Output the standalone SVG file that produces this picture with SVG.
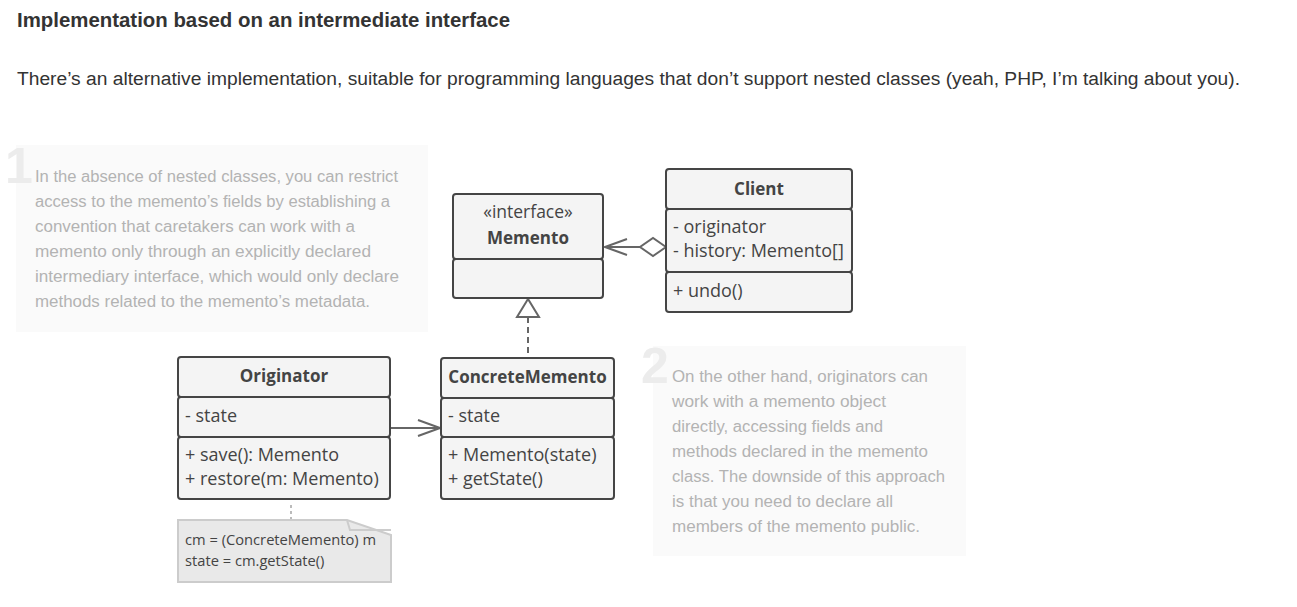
<svg xmlns="http://www.w3.org/2000/svg" width="1297" height="607" viewBox="0 0 1297 607">
<style>
  .bg { fill: #ffffff; }
  .h1 { font-family: "Liberation Sans", Arial, sans-serif; font-weight: bold; font-size: 20px; fill: #333333; }
  .body { font-family: "Liberation Sans", Arial, sans-serif; font-size: 18px; fill: #333333; }
  .panel { fill: #fafafa; }
  .digit { font-family: "Liberation Sans", Arial, sans-serif; font-weight: bold; font-size: 50px; fill: #ececec; }
  .ptxt { font-family: "Liberation Sans", Arial, sans-serif; font-size: 16px; fill: #b3b3b3; }
  .box { fill: #f4f4f4; stroke: #454545; stroke-width: 2; }
  .cls { font-family: "Open Sans", "Noto Sans", sans-serif; font-size: 18px; fill: #444444; }
  .ttl { font-family: "Open Sans", "Noto Sans", sans-serif; font-size: 17px; font-weight: bold; fill: #444444; text-anchor: middle; }
  .st { font-family: "Open Sans", "Noto Sans", sans-serif; font-size: 17.5px; fill: #444444; text-anchor: middle; }
  .conn { stroke: #666666; stroke-width: 2; fill: none; }
  .head { stroke: #666666; stroke-width: 2; fill: #ffffff; }
  .note { fill: #e9e9e9; stroke: #cccccc; stroke-width: 2; }
  .ntxt { font-family: "Open Sans", "Noto Sans", sans-serif; font-size: 14.7px; fill: #444444; }
</style>
<defs>
  <marker id="openArrow" viewBox="0 0 24 18" refX="23" refY="9" markerWidth="24" markerHeight="18" markerUnits="userSpaceOnUse" orient="auto">
    <path d="M1,1 L23,9 L1,17" fill="none" stroke="#666666" stroke-width="2"/>
  </marker>
</defs>
<rect class="bg" x="0" y="0" width="1297" height="607"/>

<g id="heading">
  <text class="h1" x="17" y="27" textLength="493" lengthAdjust="spacingAndGlyphs">Implementation based on an intermediate interface</text>
  <text class="body" x="17" y="85" textLength="1223" lengthAdjust="spacingAndGlyphs">There’s an alternative implementation, suitable for programming languages that don’t support nested classes (yeah, PHP, I’m talking about you).</text>
</g>

<g id="panel1">
  <rect class="panel" x="16" y="145" width="412" height="187"/>
  <text class="digit" x="5" y="183">1</text>
  <text class="ptxt" x="35" y="182" textLength="363" lengthAdjust="spacingAndGlyphs">In the absence of nested classes, you can restrict</text>
  <text class="ptxt" x="35" y="207" textLength="355" lengthAdjust="spacingAndGlyphs">access to the memento’s fields by establishing a</text>
  <text class="ptxt" x="35" y="232" textLength="320" lengthAdjust="spacingAndGlyphs">convention that caretakers can work with a</text>
  <text class="ptxt" x="35" y="257" textLength="336" lengthAdjust="spacingAndGlyphs">memento only through an explicitly declared</text>
  <text class="ptxt" x="35" y="282" textLength="364" lengthAdjust="spacingAndGlyphs">intermediary interface, which would only declare</text>
  <text class="ptxt" x="35" y="307" textLength="335" lengthAdjust="spacingAndGlyphs">methods related to the memento’s metadata.</text>
</g>

<g id="panel2">
  <rect class="panel" x="653" y="346" width="313" height="210"/>
  <text class="digit" x="641" y="383">2</text>
  <text class="ptxt" x="672" y="382" textLength="256" lengthAdjust="spacingAndGlyphs">On the other hand, originators can</text>
  <text class="ptxt" x="672" y="407" textLength="214" lengthAdjust="spacingAndGlyphs">work with a memento object</text>
  <text class="ptxt" x="672" y="432" textLength="211" lengthAdjust="spacingAndGlyphs">directly, accessing fields and</text>
  <text class="ptxt" x="672" y="457" textLength="256" lengthAdjust="spacingAndGlyphs">methods declared in the memento</text>
  <text class="ptxt" x="672" y="482" textLength="273" lengthAdjust="spacingAndGlyphs">class. The downside of this approach</text>
  <text class="ptxt" x="672" y="507" textLength="221" lengthAdjust="spacingAndGlyphs">is that you need to declare all</text>
  <text class="ptxt" x="672" y="532" textLength="248" lengthAdjust="spacingAndGlyphs">members of the memento public.</text>
</g>

<g id="connectors">
  <line class="conn" x1="640" y1="247" x2="605" y2="247" marker-end="url(#openArrow)"/>
  <polygon class="head" points="666,247 653,238 640,247 653,256"/>
  <line class="conn" x1="528" y1="317" x2="528" y2="358" stroke-dasharray="6 4"/>
  <polygon class="head" points="528,299 517,317 539,317"/>
  <line class="conn" x1="391" y1="428" x2="440" y2="428" marker-end="url(#openArrow)"/>
  <line x1="291" y1="505" x2="291" y2="519" stroke="#bbbbbb" stroke-width="2" stroke-dasharray="3 3"/>
</g>

<g id="memento">
  <rect class="box" x="453" y="194" width="150" height="65" rx="3"/>
  <rect class="box" x="453" y="259" width="150" height="39" rx="3"/>
  <text class="st" x="528" y="218">«interface»</text>
  <text class="ttl" x="528" y="244">Memento</text>
</g>

<g id="client">
  <rect class="box" x="666" y="169" width="186" height="40" rx="3"/>
  <rect class="box" x="666" y="209" width="186" height="63" rx="3"/>
  <rect class="box" x="666" y="272" width="186" height="40" rx="3"/>
  <text class="ttl" x="759" y="195">Client</text>
  <text class="cls" x="673" y="233">- originator</text>
  <text class="cls" x="673" y="257">- history: Memento[]</text>
  <text class="cls" x="673" y="297">+ undo()</text>
</g>

<g id="originator">
  <rect class="box" x="178" y="357" width="212" height="40" rx="3"/>
  <rect class="box" x="178" y="397" width="212" height="40" rx="3"/>
  <rect class="box" x="178" y="437" width="212" height="62" rx="3"/>
  <text class="ttl" x="284" y="382">Originator</text>
  <text class="cls" x="185" y="422">- state</text>
  <text class="cls" x="185" y="461">+ save(): Memento</text>
  <text class="cls" x="185" y="485">+ restore(m: Memento)</text>
</g>

<g id="concreteMemento">
  <rect class="box" x="441" y="358" width="173" height="40" rx="3"/>
  <rect class="box" x="441" y="398" width="173" height="39" rx="3"/>
  <rect class="box" x="441" y="437" width="173" height="62" rx="3"/>
  <text class="ttl" x="527.5" y="383">ConcreteMemento</text>
  <text class="cls" x="448" y="422">- state</text>
  <text class="cls" x="448" y="461">+ Memento(state)</text>
  <text class="cls" x="448" y="485">+ getState()</text>
</g>

<g id="note">
  <path class="note" d="M178,520 H347 L391,535 V582 H178 Z"/>
  <path d="M347,520 L350,530 H391" fill="none" stroke="#cccccc" stroke-width="2"/>
  <text class="ntxt" x="185" y="545">cm = (ConcreteMemento) m</text>
  <text class="ntxt" x="185" y="566">state = cm.getState()</text>
</g>
</svg>
